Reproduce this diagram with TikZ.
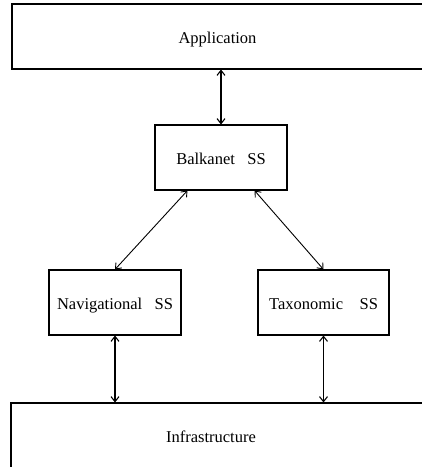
\documentclass[tikz,border=0pt]{standalone}
\usepackage{fontspec}
\setmainfont{Liberation Serif}
\usetikzlibrary{arrows.meta,calc}
\begin{document}
\begin{tikzpicture}[x=1pt,y=1pt,
  box/.style={draw,line width=1.1pt,inner sep=0pt,text height=14pt,text depth=0pt,font=\fontsize{16.5}{20}\selectfont},
  link/.style={{Straight Barb[length=5pt,width=8pt]}-{Straight Barb[length=5pt,width=8pt]},line width=1.1pt},
  diag/.style={{Straight Barb[length=5pt,width=8pt]}-{Straight Barb[length=5pt,width=8pt]},line width=0.9pt},
  lbl/.style={inner sep=0pt,text height=14pt,text depth=0pt,font=\fontsize{16.5}{20}\selectfont}]
\useasboundingbox (0,0) rectangle (422,467);
\clip (0,0) rectangle (422,467);
\node[box,minimum width=411pt,minimum height=65pt] (app) at (217.5,430.5) {Application};
\node[box,minimum width=132pt,minimum height=65pt] (bal) at (221,309.5) {Balkanet\ \ \ SS};
\node[box,minimum width=132pt,minimum height=65pt] (nav) at (115,164.5) {Navigational\ \ \ SS};
\node[box,minimum width=131pt,minimum height=65pt] (tax) at (323.5,164.5) {Taxonomic\ \ \ \ SS};
\node[box,minimum width=430pt,minimum height=75pt] (infra) at (226,26.5) {};
\node[lbl] (infratext) at (211,31) {Infrastructure};
\draw[link] (bal.north |- app.south) -- (bal.north);
\draw[diag] ($(bal.south west)+(33,0)$) -- (nav.north);
\draw[diag] ($(bal.south east)+(-33,0)$) -- (tax.north);
\draw[link] (nav.south) -- (nav.south |- infra.north);
\draw[link] (tax.south) -- (tax.south |- infra.north);
\end{tikzpicture}
\end{document}
